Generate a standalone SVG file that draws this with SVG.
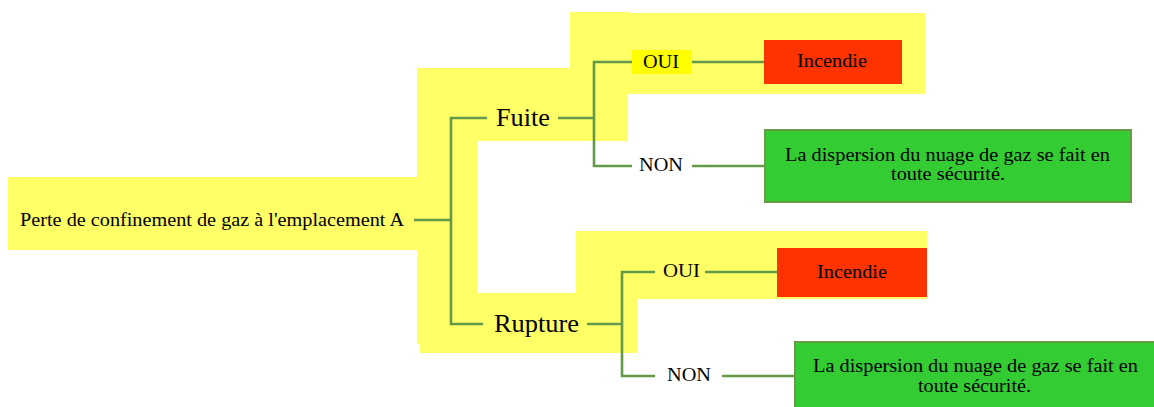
<svg xmlns="http://www.w3.org/2000/svg" width="1154" height="407" viewBox="0 0 1154 407">
<style>
.bg{fill:#FFFF66;stroke:none}
.t{font-family:"Liberation Serif","Times New Roman",serif;font-size:19px;fill:#000}
.big{font-size:24.5px}
.red{fill:#FF3300}
.grn{fill:#33CC33;stroke:#6A9A48;stroke-width:2}
.c{fill:none;stroke:#64994A;stroke-width:2.6}
</style>
<rect width="1154" height="407" fill="#fff"/>
<g id="highlight-upper">
<rect class="bg" x="8" y="177" width="410" height="73"/>
<rect class="bg" x="417" y="68" width="60" height="276"/>
<rect class="bg" x="476" y="68" width="152" height="73"/>
<rect class="bg" x="570" y="12" width="59" height="58"/>
<rect class="bg" x="628" y="13" width="297" height="81"/>
</g>
<g id="highlight-lower">
<rect class="bg" x="420" y="293" width="217" height="60"/>
<rect class="bg" x="576" y="231" width="351" height="68"/>
</g>
<g id="connectors">
<path class="c" d="M414 220H451"/>
<path class="c" d="M487 118H451V324H483"/>
<path class="c" d="M558 118H594"/>
<path class="c" d="M632 62H594V166H632"/>
<path class="c" d="M692 62H765"/>
<path class="c" d="M692 166H765"/>
<path class="c" d="M587 324H622"/>
<path class="c" d="M655 272H622V376H655"/>
<path class="c" d="M705 272H777"/>
<path class="c" d="M722 376H794"/>
</g>
<g id="root">
<text class="t" x="20" y="226" textLength="384" lengthAdjust="spacingAndGlyphs">Perte de confinement de gaz à l'emplacement A</text>
</g>
<g id="fuite">
<text class="t big" x="496" y="126" textLength="54" lengthAdjust="spacingAndGlyphs">Fuite</text>
</g>
<g id="rupture">
<text class="t big" x="494" y="332" textLength="85" lengthAdjust="spacingAndGlyphs">Rupture</text>
</g>
<g id="oui-1">
<rect x="632" y="50" width="59" height="24" fill="#FFFF00"/>
<text class="t" x="643" y="68" textLength="36" lengthAdjust="spacingAndGlyphs">OUI</text>
</g>
<g id="non-1">
<text class="t" x="639" y="171" textLength="44" lengthAdjust="spacingAndGlyphs">NON</text>
</g>
<g id="incendie-1">
<rect class="red" x="764" y="40" width="138" height="44"/>
<text class="t" x="797" y="67" textLength="70" lengthAdjust="spacingAndGlyphs">Incendie</text>
</g>
<g id="dispersion-1">
<rect class="grn" x="765" y="130" width="366" height="72"/>
<text class="t" x="785" y="161" textLength="325" lengthAdjust="spacingAndGlyphs">La dispersion du nuage de gaz se fait en</text>
<text class="t" x="891" y="180" textLength="114" lengthAdjust="spacingAndGlyphs">toute sécurité.</text>
</g>
<g id="oui-2">
<text class="t" x="663" y="277" textLength="37" lengthAdjust="spacingAndGlyphs">OUI</text>
</g>
<g id="non-2">
<text class="t" x="667" y="381" textLength="44" lengthAdjust="spacingAndGlyphs">NON</text>
</g>
<g id="incendie-2">
<rect class="red" x="777" y="248" width="150" height="49"/>
<text class="t" x="817" y="278" textLength="70" lengthAdjust="spacingAndGlyphs">Incendie</text>
</g>
<g id="dispersion-2">
<rect class="grn" x="795" y="342" width="370" height="80"/>
<text class="t" x="813" y="372" textLength="325" lengthAdjust="spacingAndGlyphs">La dispersion du nuage de gaz se fait en</text>
<text class="t" x="918" y="392" textLength="113" lengthAdjust="spacingAndGlyphs">toute sécurité.</text>
</g>
</svg>
